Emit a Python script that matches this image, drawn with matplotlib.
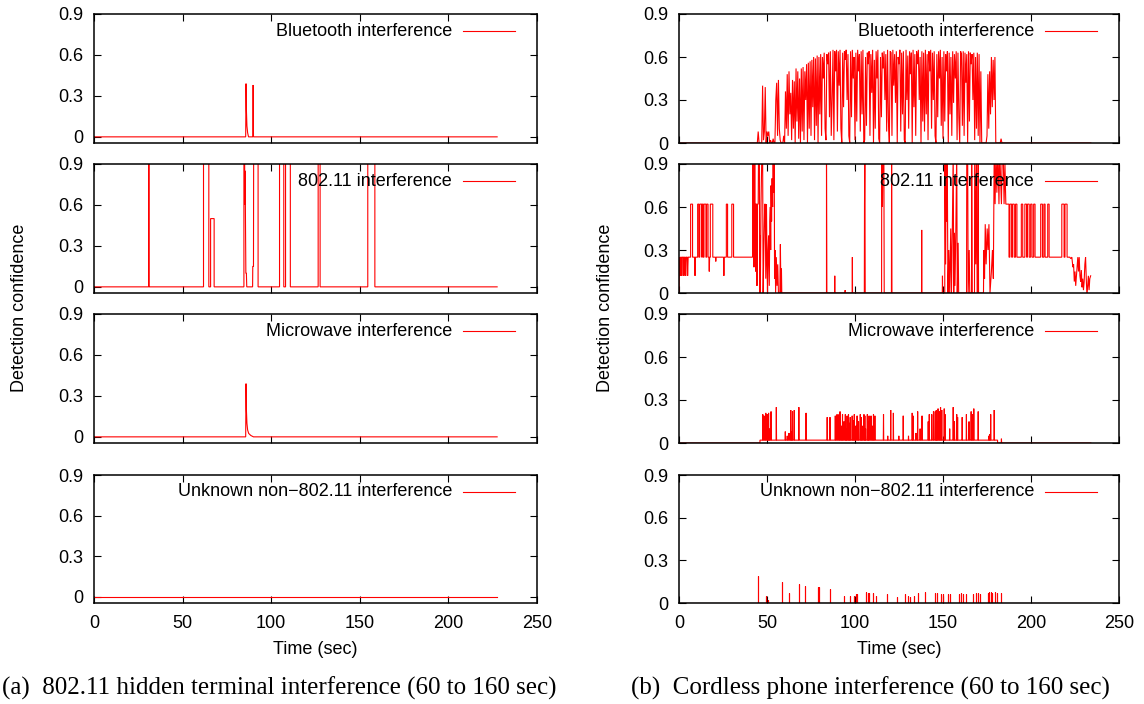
import numpy as np
import matplotlib
matplotlib.use("Agg")
import matplotlib.pyplot as plt

# ---------------- data ----------------
panel_labels = ["Bluetooth interference", "802.11 interference",
                "Microwave interference", "Unknown non\u2212802.11 interference"]
yticks = [0, 0.3, 0.6, 0.9]
ytick_labels = ["0", "0.3", "0.6", "0.9"]
xticks = [0, 50, 100, 150, 200, 250]
xtick_labels = ["0", "50", "100", "150", "200", "250"]
captions = ["(a)  802.11 hidden terminal interference (60 to 160 sec)",
            "(b)  Cordless phone interference (60 to 160 sec)"]

# (a) hidden terminal experiment
ht_bt_t = [0, 85.6, 85.8, 86.0, 86.3, 86.7, 87.2, 89.6, 89.8, 90.0, 227.5]
ht_bt_v = [0, 0, 0.39, 0.2, 0.08, 0.03, 0, 0, 0.38, 0, 0]

ht_wifi_t = [0, 30.8, 30.8, 31.1, 31.1, 61.8, 61.8, 64.8, 64.8, 65.8, 65.8, 67.8, 67.8,
             84.6, 84.6, 85.0, 85.1, 85.3, 85.5, 85.7, 86.0, 86.2, 89.5, 89.6, 90.0, 90.1,
             92.6, 92.6, 104.7, 104.7, 107.1, 107.1, 108.1, 108.1, 110.8, 110.8,
             126.5, 126.5, 127.6, 127.6, 154.5, 154.5, 158.5, 158.5, 227.5]
ht_wifi_v = [0, 0, 1.0, 1.0, 0, 0, 1.0, 1.0, 0, 0, 0.5, 0.5, 0,
             0, 1.0, 1.0, 0.6, 0.85, 0.45, 0.1, 0.1, 0, 0, 0.15, 0.15, 1.0,
             1.0, 0, 0, 1.0, 1.0, 0, 0, 1.0, 1.0, 0,
             0, 1.0, 1.0, 0, 0, 1.0, 1.0, 0, 0]

ht_mw_t = [0, 85.6, 85.8, 86.0, 86.3, 86.7, 87.3, 88.5, 90.0, 227.5]
ht_mw_v = [0, 0, 0.39, 0.2, 0.1, 0.05, 0.025, 0.01, 0, 0]

ht_unk_t = [0, 227.5]
ht_unk_v = [0, 0]

# (b) cordless phone experiment
cp_bt_start = 44.5
cp_bt_step = 0.5
cp_bt_v = [
    0, 0.08, 0, 0, 0, 0,
    0.4, 0.02, 0.08, 0.39, 0.0, 0.08, 0.05,
    0.08, 0, 0.02, 0, 0, 0.03, 0.0, 0,
    0.3, 0.42, 0.05, 0.44, 0.1, 0.02, 0.0,
    0.0, 0.0, 0.05, 0.0,
    0.36, 0.1, 0.48, 0.05, 0.5, 0.2, 0.35, 0.02, 0.44, 0.1, 0.43, 0.0, 0.52, 0.15, 0.5, 0.03, 0.45, 0.0, 0.52, 0.08,
    0.53, 0.02, 0.5, 0.3, 0.55, 0.0, 0.56, 0.1, 0.57, 0.05, 0.58, 0.25, 0.6, 0.02, 0.59, 0.12, 0.61, 0.0, 0.6, 0.2,
    0.62, 0.05, 0.6, 0.45, 0.63, 0.1, 0.02, 0.62, 0.55, 0.63, 0.18, 0.64, 0.05, 0.3, 0.65, 0.02, 0.64, 0.5, 0.65, 0.08,
    0.64, 0.4, 0.65, 0.1, 0.0, 0.63, 0.25, 0.64, 0.58, 0.65, 0.3, 0.62, 0.05, 0.0, 0.64, 0.18, 0.65, 0.45, 0.6, 0.02,
    0.63, 0.15, 0.65, 0.5, 0.62, 0.08, 0.64, 0.2, 0.65, 0.0, 0.02, 0.6, 0.12, 0.63, 0.55, 0.64, 0.05, 0.62, 0.35, 0.65,
    0.0, 0.58, 0.1, 0.64, 0.45, 0.65, 0.03, 0.0, 0.6, 0.18, 0.63, 0.52, 0.64, 0.3, 0.62, 0.08, 0.65, 0.15, 0.0, 0.64,
    0.63, 0.05, 0.65, 0.4, 0.62, 0.28, 0.64, 0.0, 0.6, 0.55, 0.65, 0.08, 0.63, 0.2, 0.64, 0.02, 0.0, 0.65, 0.3, 0.61,
    0.1, 0.64, 0.48, 0.63, 0.0, 0.65, 0.25, 0.62, 0.05, 0.64, 0.55, 0.65, 0.3, 0.6, 0.0, 0.64, 0.15, 0.63, 0.08, 0.65,
    0.2, 0.62, 0.02, 0.64, 0.5, 0.65, 0.1, 0.63, 0.3, 0.64, 0.05, 0.0, 0.62, 0.18, 0.64, 0.45, 0.65, 0.12, 0.6, 0.03,
    0.64, 0.15, 0.62, 0.5, 0.64, 0.0, 0.63, 0.2, 0.6, 0.05, 0.64, 0.28, 0.62, 0.45, 0.64, 0.02, 0.63, 0.18, 0.0, 0.64,
    0.62, 0.12, 0.64, 0.05, 0.63, 0.42, 0.62, 0.0, 0.64, 0.15, 0.63, 0.55, 0.62, 0.3, 0.63, 0.02, 0.6, 0.1, 0.63, 0.05,
    0.62, 0.0, 0.5, 0.0, 0.0, 0.0, 0.0, 0.0, 0.0, 0.05,
    0.48, 0.1, 0.5, 0.2, 0.6, 0.25, 0.58, 0.3, 0.6, 0.0, 0.0,
    0, 0, 0, 0, 0.03, 0, 0,
]
cp_bt_end = 234.0

cp_wifi_t = [
    0, 0.3, 0.6, 0.9, 1.4, 1.6, 1.9, 2.6, 2.8, 3.1, 3.6, 3.8, 4.1, 4.7, 4.9, 5.2, 6.6, 6.6, 7.7, 7.7,
    8.9, 9.1, 9.3, 10.6, 10.6, 11.3, 11.3, 11.8, 11.8, 12.9, 12.9, 13.2, 13.2, 13.8, 13.8, 14.2, 14.2,
    15.3, 15.3, 15.7, 15.7, 16.5, 16.5, 17.0, 17.2, 17.4, 17.8, 17.8, 19.2, 19.2, 20.7, 20.9, 21.1,
    25.3, 25.5, 25.7, 26.9, 26.9, 27.6, 27.6, 30.0, 30.0, 31.0, 31.0, 41.8,
    41.8, 42.5, 42.6, 42.8, 43.2, 43.2, 43.5, 43.6, 43.8, 44.2, 44.3, 44.5, 45.0, 45.2, 45.7, 45.8,
    46.0, 46.2, 46.6, 47.1, 47.5, 47.8, 48.2, 48.7, 49.0, 49.3, 49.7, 50.0, 50.3, 50.6, 50.9, 51.3,
    51.6, 51.9, 52.1, 52.3, 52.6, 52.9, 53.2, 53.5, 53.8, 54.1, 54.3, 54.6, 54.9, 55.3, 55.7, 56.1,
    56.5, 57.3, 57.6, 57.9, 58.2, 58.4,
    83.8, 83.8, 84.0, 88.4, 88.5, 88.6, 94.3, 94.4, 94.5, 98.4, 98.5, 98.6, 105.3, 105.4, 105.6, 105.8,
    115.1, 115.2, 115.6, 115.9, 116.4, 116.6, 120.7, 120.8, 121.0, 137.8, 137.9, 138.0,
    149.6, 149.7, 149.8, 151.0, 151.1, 151.5, 151.8, 152.1, 152.4, 152.8, 153.3, 153.8, 154.4, 154.8,
    155.3, 155.8, 156.1, 156.5, 156.8, 157.3, 157.8, 158.1, 158.6, 158.9, 163.4, 163.5, 164.0, 164.3,
    164.9, 165.2, 166.2, 166.3, 166.6, 167.9, 168.0, 168.6, 169.0, 169.4, 169.9, 170.0, 170.2, 173.0,
    173.2, 173.6, 174.0, 174.5, 175.1, 175.6, 176.1, 176.7, 177.5, 178.1, 178.6, 179.1, 179.6, 180.1,
    180.6, 181.2, 181.8, 182.2, 182.7, 183.2, 183.7, 184.2, 184.7, 185.2, 185.7, 186.3,
    187.5, 187.5, 188.0, 188.0, 189.0, 189.0, 189.5, 189.5, 190.5, 190.5, 191.2, 191.2, 192.0, 192.0,
    194.5, 194.5, 195.3, 195.3, 196.5, 196.5, 197.5, 197.5, 198.0, 198.0, 199.0, 199.0, 199.8, 199.8,
    200.6, 200.6, 201.5, 201.5, 202.3, 202.3, 205.5, 205.5, 206.5, 206.5, 207.3, 207.3, 208.0, 208.0,
    209.5, 209.5, 210.3, 210.3, 217.5, 217.5, 218.8, 218.8, 219.3, 219.3, 220.5, 220.5, 222.0,
    222.6, 223.2, 223.8, 224.2, 224.6, 225.0, 225.4, 225.8, 226.2, 226.6, 227.0, 227.4, 227.8, 228.2,
    228.6, 229.0, 229.4, 229.8, 230.2, 230.6, 231.0, 231.4, 231.8, 232.2, 232.6, 233.0, 233.4, 233.9,
]
cp_wifi_v = [
    0.0, 0.25, 0.12, 0.25, 0.25, 0.12, 0.25, 0.25, 0.12, 0.25, 0.25, 0.12, 0.25, 0.25, 0.12, 0.25, 0.25, 0.62, 0.62, 0.25,
    0.25, 0.12, 0.25, 0.25, 0.62, 0.62, 0.25, 0.25, 0.62, 0.62, 0.25, 0.25, 0.62, 0.62, 0.25, 0.25, 0.62,
    0.62, 0.25, 0.25, 0.62, 0.62, 0.25, 0.25, 0.15, 0.25, 0.25, 0.62, 0.62, 0.25, 0.25, 0.22, 0.25,
    0.25, 0.12, 0.25, 0.25, 0.62, 0.62, 0.25, 0.25, 0.62, 0.62, 0.25, 0.25,
    1.0, 1.0, 0.18, 1.0, 1.0, 0.62, 0.62, 0.15, 0.62, 0.62, 0.05, 0.62, 0.62, 1.0, 1.0, 0.0,
    0.4, 0.0, 0.62, 1.0, 1.0, 0.0, 0.3, 0.62, 0.62, 0.1, 0.62, 0.2, 0.0, 0.3, 0.4, 0.05,
    0.5, 0.6, 0.3, 0.75, 0.5, 0.8, 0.6, 1.0, 0.7, 1.0, 0.1, 0.3, 0.0, 0.25, 0.05, 0.2,
    0.0, 0.0, 0.34, 0.0, 0.17, 0.0,
    0.0, 1.0, 0.0, 0.0, 0.12, 0.0, 0.0, 0.02, 0.0, 0.0, 0.25, 0.0, 0.0, 0.62, 1.0, 0.0,
    0.0, 1.0, 0.6, 1.0, 1.0, 0.0, 0.0, 1.0, 0.0, 0.0, 0.44, 0.0,
    0.0, 0.12, 0.0, 0.0, 1.0, 0.2, 1.0, 0.5, 1.0, 0.0, 0.3, 0.0, 0.45, 0.0,
    0.44, 1.0, 0.0, 0.42, 0.05, 0.44, 1.0, 0.0, 0.35, 0.0, 0.0, 1.0, 1.0, 0.0,
    0.3, 0.0, 0.0, 1.0, 0.0, 0.0, 1.0, 0.2, 1.0, 0.0, 0.0, 1.0, 0.0, 0.0,
    0.3, 0.1, 0.48, 0.2, 0.45, 0.3, 0.48, 0.0, 0.15, 0.3, 0.1, 1.0, 0.62, 1.0,
    0.7, 1.0, 0.62, 1.0, 0.8, 0.62, 1.0, 1.0, 0.62, 0.9, 0.62, 0.62,
    0.62, 0.25, 0.25, 0.62, 0.62, 0.25, 0.25, 0.62, 0.62, 0.25, 0.25, 0.62, 0.62, 0.25,
    0.25, 0.62, 0.62, 0.25, 0.25, 0.62, 0.62, 0.25, 0.25, 0.62, 0.62, 0.25, 0.25, 0.62,
    0.62, 0.25, 0.25, 0.62, 0.62, 0.25, 0.25, 0.62, 0.62, 0.25, 0.25, 0.62, 0.62, 0.25,
    0.25, 0.62, 0.62, 0.25, 0.25, 0.62, 0.62, 0.25, 0.25, 0.62, 0.62, 0.25, 0.25,
    0.24, 0.25, 0.18, 0.2, 0.08, 0.15, 0.05, 0.12, 0.2, 0.25, 0.15, 0.25, 0.12, 0.08,
    0.16, 0.04, 0.1, 0.02, 0.08, 0.2, 0.25, 0.1, -0.02, 0.05, 0.12, 0.02, 0.1, 0.12,
]

# microwave (cordless run): spikes over a low floor
cp_mw_floor = 0.02
cp_mw_floor_start = 46.0
cp_mw_floor_end = 181.0
cp_mw_spike_t = [47.6, 48.3, 49.3, 50.1, 50.9, 51.5, 52.3, 55.3, 60.4, 61.5, 62.5, 63.5, 64.0,
                 64.5, 65.5, 68.1, 72.2, 84.2, 85.8, 88.8, 89.8, 90.9, 91.5, 92.2, 92.9, 93.7,
                 94.5, 95.0, 95.5, 96.3, 96.9, 97.3, 98.4, 99.0, 99.6, 100.4, 101.2, 102.0,
                 103.0, 103.6, 104.1, 105.1, 105.6, 106.0, 107.0, 107.6, 108.0, 109.1, 109.8,
                 110.5, 111.3, 116.2, 118.6, 120.3, 121.8, 124.9, 127.4, 130.4, 132.5, 133.0,
                 134.6, 135.6, 137.0, 138.1, 141.6, 142.2, 143.6, 144.6, 145.6, 146.2, 146.6,
                 147.2, 147.9, 148.6, 149.3, 150.7, 151.2, 153.8, 155.8, 156.5, 157.8, 158.3,
                 160.9, 163.3, 164.8, 166.0, 166.6, 167.5, 170.0, 176.0, 176.5, 177.1, 179.1,
                 183.2]
cp_mw_spike_h = [0.2, 0.19, 0.21, 0.2, 0.21, 0.1, 0.22, 0.25, 0.08, 0.05, 0.07, 0.23, 0.08,
                 0.22, 0.23, 0.25, 0.21, 0.18, 0.18, 0.19, 0.2, 0.2, 0.22, 0.12, 0.2, 0.15,
                 0.2, 0.1, 0.19, 0.2, 0.14, 0.18, 0.19, 0.16, 0.2, 0.12, 0.19, 0.15,
                 0.2, 0.18, 0.12, 0.2, 0.19, 0.1, 0.2, 0.15, 0.19, 0.19, 0.12,
                 0.2, 0.19, 0.2, 0.05, 0.23, 0.21, 0.05, 0.19, 0.05, 0.21, 0.19,
                 0.07, 0.22, 0.1, 0.19, 0.15, 0.2, 0.2, 0.22, 0.22, 0.23, 0.15,
                 0.24, 0.22, 0.25, 0.23, 0.24, 0.2, 0.1, 0.25, 0.15, 0.2, 0.18,
                 0.18, 0.2, 0.15, 0.22, 0.2, 0.24, 0.22, 0.05, 0.06, 0.2, 0.23,
                 0.03]

cp_unk_spike_t = [45.0, 49.3, 50.3, 58.4, 62.5, 68.2, 71.7, 78.8, 79.8, 85.8, 93.6, 97.0,
                  99.7, 100.4, 101.1, 106.5, 107.2, 108.0, 110.3, 111.7, 118.1, 123.6, 128.3,
                  130.3, 131.5, 133.3, 136.0, 140.0, 145.6, 146.6, 148.6, 150.0, 152.7, 153.7,
                  159.2, 160.5, 161.5, 162.9, 167.3, 168.5, 170.0, 171.0, 175.4, 176.2, 177.0,
                  178.0, 179.5, 180.5, 183.1]
cp_unk_spike_h = [0.19, 0.05, 0.02, 0.15, 0.07, 0.135, 0.12, 0.115, 0.115, 0.1, 0.05, 0.05,
                  0.05, 0.06, 0.06, 0.08, 0.07, 0.07, 0.07, 0.05, 0.065, 0.045, 0.065,
                  0.05, 0.045, 0.05, 0.07, 0.075, 0.07, 0.07, 0.06, 0.06, 0.065, 0.065,
                  0.06, 0.07, 0.065, 0.06, 0.065, 0.07, 0.07, 0.065, 0.07, 0.08, 0.075,
                  0.07, 0.075, 0.07, 0.07]
cp_end = 234.0

# ---------------- build series ----------------
cp_bt_t = [0.0] + list(cp_bt_start + cp_bt_step * np.arange(len(cp_bt_v))) + [cp_bt_end]
cp_bt_vals = [0.0] + list(cp_bt_v) + [0.0]


def spike_path(times, heights, floor=0.0, f0=None, f1=None, end=cp_end, hw=0.12):
    """Vertical impulses rising from a floor level (floor only between f0 and f1)."""
    def base(t):
        if f0 is not None and f0 <= t <= f1:
            return floor
        return 0.0
    xs, ys = [0.0], [0.0]
    if f0 is not None:
        xs += [f0, f0]
        ys += [0.0, floor]
    for st, sh in sorted(zip(times, heights)):
        if f0 is not None and xs[-1] < f1 <= st:
            xs += [f1, f1]
            ys += [floor, 0.0]
        b = base(st)
        xs += [st - hw, st, st + hw]
        ys += [b, sh, b]
    if f0 is not None and xs[-1] < f1:
        xs += [f1, f1]
        ys += [floor, 0.0]
    xs.append(end)
    ys.append(0.0)
    return xs, ys


cp_mw_t, cp_mw_v = spike_path(cp_mw_spike_t, cp_mw_spike_h, cp_mw_floor,
                              cp_mw_floor_start, cp_mw_floor_end)
cp_unk_t, cp_unk_v = spike_path(cp_unk_spike_t, cp_unk_spike_h, hw=0.0)

left_series = [(ht_bt_t, ht_bt_v), (ht_wifi_t, ht_wifi_v), (ht_mw_t, ht_mw_v), (ht_unk_t, ht_unk_v)]
right_series = [(cp_bt_t, cp_bt_vals), (cp_wifi_t, cp_wifi_v), (cp_mw_t, cp_mw_v), (cp_unk_t, cp_unk_v)]

# ---------------- figure ----------------
W, H = 1144, 704
fig = plt.figure(figsize=(W / 100, H / 100), dpi=100)
plt.rcParams['font.family'] = ['Liberation Sans', 'DejaVu Sans']

rows_px = [(14, 143), (164, 293), (314, 443), (475, 603)]
cols_px = [(94, 537), (679, 1119)]
col_ylow = [-0.045, 0.0]
col_series = [left_series, right_series]
FS = 13

for ci, (x0, x1) in enumerate(cols_px):
    for ri, (y0, y1) in enumerate(rows_px):
        ax = fig.add_axes([x0 / W, 1 - y1 / H, (x1 - x0) / W, (y1 - y0) / H])
        t, v = col_series[ci][ri]
        ax.plot(t, v, color='#ff0000', lw=0.8, solid_joinstyle='miter')
        ax.set_xlim(0, 250)
        ax.set_ylim(col_ylow[ci], 0.9)
        ax.set_yticks(yticks)
        ax.set_yticklabels(ytick_labels, fontsize=FS)
        ax.set_xticks(xticks)
        if ri == 3:
            ax.set_xticklabels(xtick_labels, fontsize=FS)
            ax.set_xlabel("Time (sec)", fontsize=FS, labelpad=6)
        else:
            ax.set_xticklabels([])
        ax.tick_params(direction='in', length=5, width=0.8, top=True, right=True,
                       pad=8, colors='black')
        ax.tick_params(axis='x', pad=9)
        for sp in ax.spines.values():
            sp.set_linewidth(1.1)
            sp.set_zorder(5)
        # gnuplot style key: text, then line sample, at the top right
        wpx = x1 - x0
        hpx = y1 - y0
        ky = 1 - 17 / hpx
        ax.text(1 - 85 / wpx, ky, panel_labels[ri], transform=ax.transAxes,
                ha='right', va='center', fontsize=FS)
        ax.plot([1 - 74 / wpx, 1 - 22 / wpx], [ky, ky], transform=ax.transAxes,
                color='#ff0000', lw=0.8, clip_on=False)

# y labels
fig.text(20 / W, 1 - 308 / H, "Detection confidence", rotation=90, ha='center', va='center', fontsize=FS)
fig.text(605 / W, 1 - 308 / H, "Detection confidence", rotation=90, ha='center', va='center', fontsize=FS)

# captions
fig.text(279 / W, 1 - 688 / H, captions[0], ha='center', va='center', fontsize=18,
         family=['Liberation Serif', 'DejaVu Serif'])
fig.text(870 / W, 1 - 688 / H, captions[1], ha='center', va='center', fontsize=18,
         family=['Liberation Serif', 'DejaVu Serif'])

fig.savefig("out.png", dpi=100)
